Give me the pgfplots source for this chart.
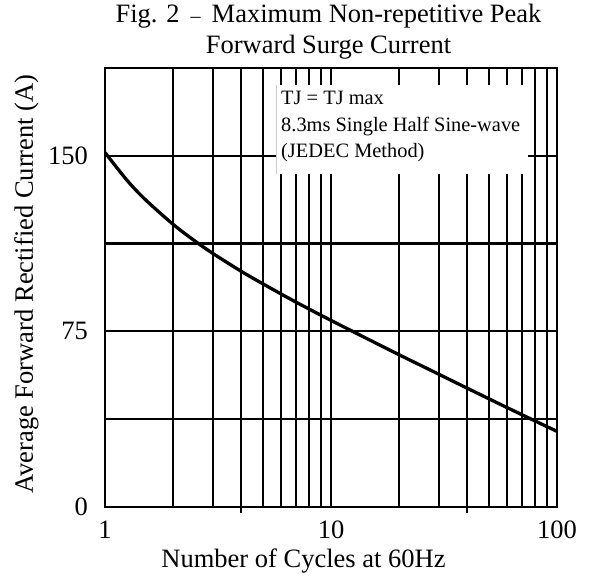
\documentclass[border=0pt]{standalone}
\usepackage{fontspec}
\setmainfont{Liberation Serif}
\usepackage{pgfplots}
\pgfplotsset{compat=1.18}
\begin{document}
\fontsize{26.5}{31}\selectfont
\begin{tikzpicture}
\useasboundingbox (-105pt,-69pt) rectangle (487pt,507pt);
\begin{axis}[
 at={(0,0)}, anchor=south west,
 width=452pt, height=439pt, scale only axis,
 xmode=log, log basis x=10,
 xmin=1, xmax=100, ymin=0, ymax=187.5,
 xtick={1,10,100}, xticklabels={1,10,100},
 minor xtick={2,3,4,5,6,7,8,9,20,30,40,50,60,70,80,90},
 ytick={0,75,150}, yticklabels={0,75,150},
 minor ytick={37.5,112.5},
 grid=both,
 major grid style={black, line width=2pt},
 minor grid style={black, line width=2pt},
 axis line style={black, line width=2pt},
 major tick length=0pt, minor tick length=0pt,
 xtick pos=left, ytick pos=left,
 extra x ticks={4,40}, extra x tick labels={},
 extra x tick style={tick align=outside, major tick length=6pt, major tick style={black, line width=2pt}},
 extra y ticks={112.5}, extra y tick labels={},
 extra y tick style={major grid style={black, line width=3.2pt}},
 /pgf/number format/assume math mode=true,
 xticklabel style={anchor=north, inner sep=0pt, yshift=-14pt},
 yticklabel style={anchor=east, inner sep=0pt, xshift=-17pt},
 xlabel={Number of Cycles at 60Hz},
 xlabel style={at={(axis description cs:0.5,0)}, anchor=base, inner sep=0pt, yshift=-60pt, xshift=-27.5pt},
 ylabel={Average Forward Rectified Current (A)},
 ylabel style={at={(axis description cs:0,0.5)}, anchor=base, inner sep=0pt, yshift=72pt, xshift=3.5pt},
 title={Fig. 2 \,{\fontsize{20}{24}\selectfont –}\, Maximum Non-repetitive Peak\\Forward Surge Current},
 title style={at={(axis description cs:0.5,1)}, anchor=south, align=center, inner sep=0pt, yshift=2.2pt, xshift=-2.5pt, font=\fontsize{26.5}{31}\selectfont},
]
\addplot[black, line width=3.3pt, smooth] coordinates {
 (1,151.4) (1.25,139.6) (1.5,131.5) (2,120.75) (2.5,113.6) (3,108.3) (4,100.7) (5,95.3) (7,87.5) (10,79.7) (15,71.1) (20,65.05) (30,56.7) (50,46.2) (70,39.4) (100,32.3)
};
\end{axis}
\fill[white] (171pt,333pt) rectangle (423pt,422pt);
\draw[gray!40, line width=0.8pt] (171pt,333pt) -- (171pt,422pt);
\begin{scope}[every node/.style={anchor=base west, inner sep=0pt, font=\fontsize{20.4}{26.5}\selectfont}]
\node at (176pt,402pt) {TJ = TJ max};
\node at (176pt,375pt) {8.3ms Single Half Sine-wave};
\node at (176pt,349pt) {(JEDEC Method)};
\end{scope}
\end{tikzpicture}
\end{document}
